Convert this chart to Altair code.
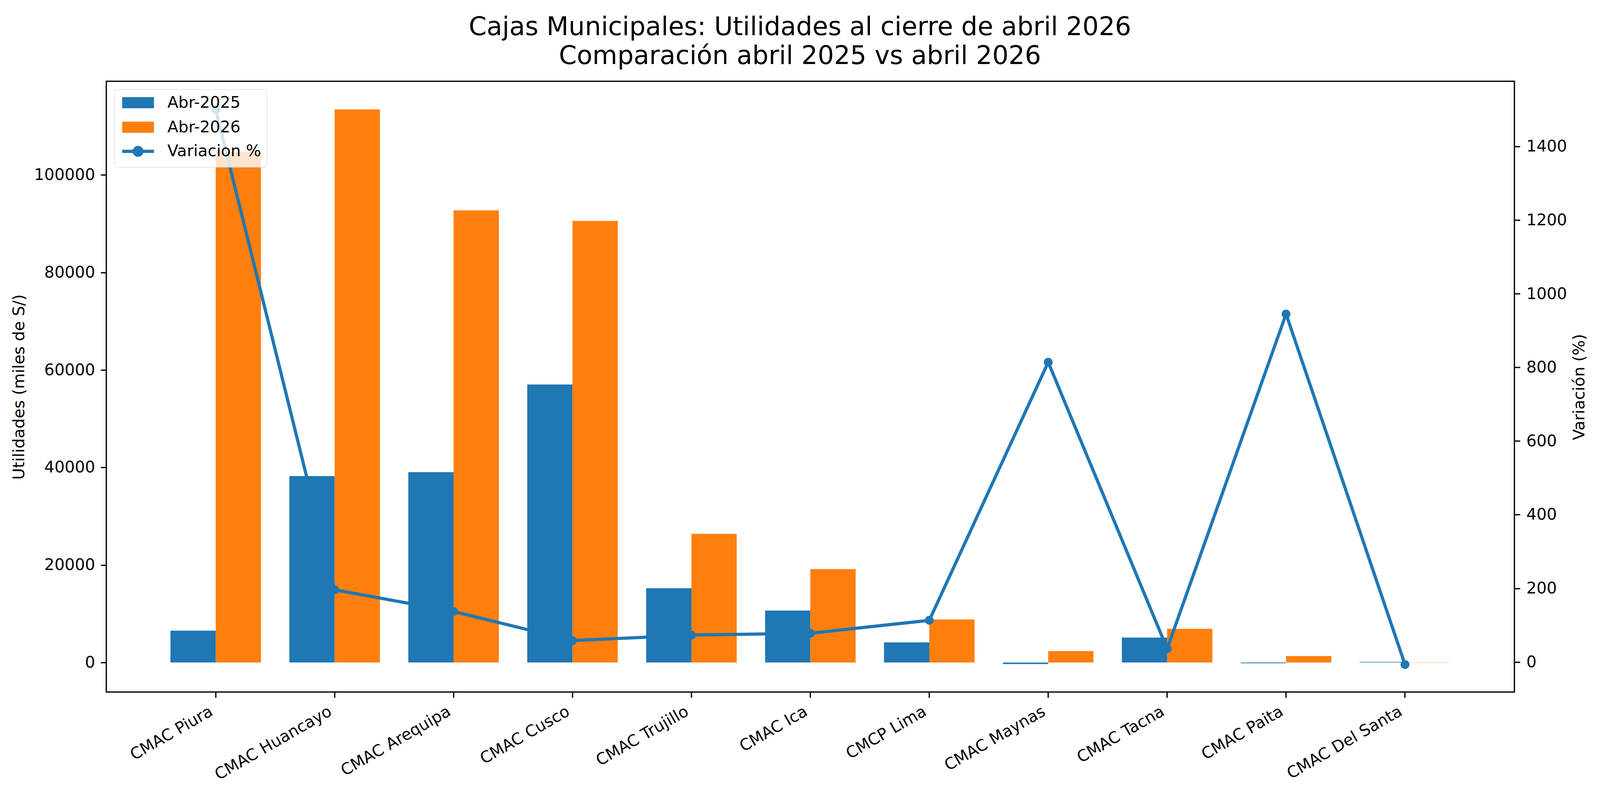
import altair as alt
import pandas as pd

# ---- data ----
cajas = ["CMAC Piura", "CMAC Huancayo", "CMAC Arequipa", "CMAC Cusco", "CMAC Trujillo",
         "CMAC Ica", "CMCP Lima", "CMAC Maynas", "CMAC Tacna", "CMAC Paita", "CMAC Del Santa"]
util_2025 = [6520, 38230, 39030, 57010, 15230, 10640, 4110, -330, 5090, -160, 110]
util_2026 = [104720, 113450, 92730, 90580, 26390, 19150, 8820, 2340, 6900, 1310, 40]
variacion = [1500, 196, 137, 58, 73, 78, 113, 814, 36, 945, -7]

periodos = ["Abr-2025", "Abr-2026"]
serie_var = "Variacion %"

bars_df = pd.DataFrame(
    [{"Caja": c, "Periodo": periodos[0], "Utilidad": v} for c, v in zip(cajas, util_2025)]
    + [{"Caja": c, "Periodo": periodos[1], "Utilidad": v} for c, v in zip(cajas, util_2026)]
)
line_df = pd.DataFrame({"Caja": cajas, "Variacion": variacion})

FONT = "DejaVu Sans"
FS = 41.7
BLUE = "#1f77b4"
ORANGE = "#ff7f0e"
LW = 3.33
TICK = 14.6

color_scale = alt.Scale(domain=periodos + [serie_var], range=[BLUE, ORANGE, BLUE])

x_enc = alt.X(
    "Caja:N", sort=cajas, title=None,
    scale=alt.Scale(paddingInner=0, paddingOuter=0.42),
    axis=alt.Axis(labelAngle=330, labelAlign="right", labelBaseline="top",
                  labelFontSize=FS, labelFont=FONT, labelColor="black", labelLimit=2000,
                  labelOffset=-21, labelPadding=15, tickSize=TICK, tickWidth=LW,
                  tickColor="black", domain=False, grid=False, labelOverlap=False),
)

SYM_RECT = "M-0.713,-0.713H4.433V0.713H-0.713Z"
SYM_LINE = "M-1,0H4.72M2.55,0A0.69,0.69,0,1,1,1.17,0A0.69,0.69,0,1,1,2.55,0Z"

legend = alt.Legend(
    title=None, orient="top-left", offset=21,
    labelFontSize=FS, labelFont=FONT, labelColor="black", labelLimit=2000,
    symbolSize=841, labelOffset=82.5, rowPadding=9, padding=14,
    fillColor="rgba(255,255,255,0.8)", strokeColor="#cccccc",
    cornerRadius=8,
    symbolStrokeWidth=8.33,
    symbolType={"expr": "datum.label == 'Variacion %' ? '" + SYM_LINE + "' : '" + SYM_RECT + "'"},
    symbolFillColor={"expr": "datum.label == 'Abr-2026' ? '#ff7f0e' : '#1f77b4'"},
    symbolStrokeColor={"expr": "datum.label == 'Abr-2026' ? '#ff7f0e' : '#1f77b4'"},
    symbolOpacity=1,
)

bars = alt.Chart(bars_df).mark_bar().encode(
    x=x_enc,
    xOffset=alt.XOffset("Periodo:N", sort=periodos,
                        scale=alt.Scale(paddingInner=0, paddingOuter=0.3136)),
    y=alt.Y("Utilidad:Q",
            scale=alt.Scale(domain=[-6064, 119215], nice=False, zero=False),
            axis=alt.Axis(orient="left", values=[0, 20000, 40000, 60000, 80000, 100000],
                          format="d", title="Utilidades (miles de S/)",
                          labelFontSize=FS, labelFont=FONT, labelColor="black",
                          labelPadding=15, tickSize=TICK, tickWidth=LW, tickColor="black",
                          titleFontSize=FS, titleFont=FONT, titleFontWeight="normal",
                          titleColor="black", titleX=-206, titleY=797, titleAngle=270,
                          titleAlign="center", titleBaseline="bottom",
                          domain=False, grid=False)),
    color=alt.Color("Periodo:N", scale=color_scale, legend=legend),
)

line = alt.Chart(line_df).mark_line(
    strokeWidth=8.33, point=alt.OverlayMarkDef(filled=True, size=530, opacity=1)
).encode(
    x=alt.X("Caja:N", sort=cajas),
    y=alt.Y("Variacion:Q",
            scale=alt.Scale(domain=[-81.6, 1577], nice=False, zero=False),
            axis=alt.Axis(orient="right", values=[0, 200, 400, 600, 800, 1000, 1200, 1400],
                          format="d", title="Variación (%)",
                          labelFontSize=FS, labelFont=FONT, labelColor="black",
                          labelPadding=16, tickSize=TICK, tickWidth=LW, tickColor="black",
                          titleFontSize=FS, titleFont=FONT, titleFontWeight="normal",
                          titleColor="black", titleX=191, titleY=797, titleAngle=270,
                          titleAlign="center", titleBaseline="bottom",
                          domain=False, grid=False)),
    color=alt.Color("s:N", scale=color_scale, legend=legend),
).transform_calculate(s="'Variacion %'")

chart = alt.layer(bars, line).resolve_scale(y="independent").properties(
    width=3671, height=1593,
    background="white",
    autosize=alt.AutoSizeParams(type="none"),
    padding={"left": 269, "top": 185, "right": 215, "bottom": 270},
    title=alt.TitleParams(
        text=["Cajas Municipales: Utilidades al cierre de abril 2026",
              "Comparación abril 2025 vs abril 2026"],
        fontSize=66.7, font=FONT, fontWeight="normal", color="black",
        anchor="middle", dx=-27, dy=73.5, offset=52, lineHeight=75, baseline="alphabetic",
    ),
).configure_view(stroke="black", strokeWidth=LW)

chart.save("out.html", embed_options={"renderer": "svg", "actions": False})
